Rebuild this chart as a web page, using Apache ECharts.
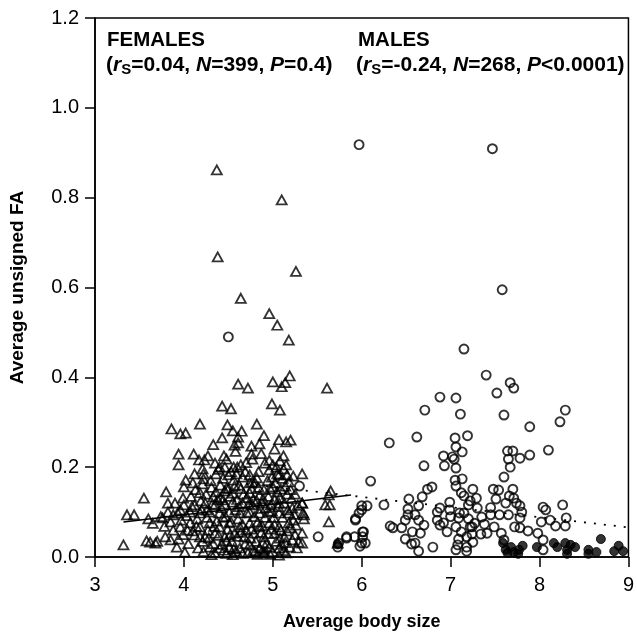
<!DOCTYPE html>
<html>
<head>
<meta charset="utf-8">
<script src="https://cdn.jsdelivr.net/npm/echarts@6/dist/echarts.min.js"></script>
<style>html,body{margin:0;padding:0;background:#fff}#c{width:637px;height:637px}</style>
</head>
<body>
<div id="c"></div>
<script>
// ---- data ----
const xTicks = [3, 4, 5, 6, 7, 8, 9];
const yTicks = [0.0, 0.2, 0.4, 0.6, 0.8, 1.0, 1.2];

const females = [
[4.37,0.862],[5.10,0.795],[4.38,0.668],[5.26,0.636],[4.64,0.576],[4.96,0.542],[5.05,0.516],[5.18,0.483],
[4.61,0.385],[4.72,0.376],[5.00,0.390],[5.19,0.403],[5.10,0.379],[5.14,0.388],[5.61,0.376],
[4.43,0.336],[4.53,0.330],[4.99,0.341],[5.08,0.327],[3.86,0.285],[3.96,0.274],[4.02,0.276],[4.18,0.296],
[4.49,0.294],[4.55,0.281],[4.82,0.296],[4.43,0.265],[4.61,0.267],[4.57,0.249],[4.61,0.254],[4.76,0.247],
[4.85,0.252],[5.07,0.261],[5.15,0.256],[3.94,0.229],[3.94,0.205],[4.11,0.229],[4.17,0.216],[4.23,0.216],
[4.35,0.209],[4.40,0.200],[4.46,0.200],[4.48,0.218],[4.56,0.200],[4.60,0.200],[4.76,0.229],[4.77,0.218],
[4.91,0.209],[5.00,0.205],[5.08,0.214],[5.04,0.200],[5.12,0.196],[4.21,0.196],[4.22,0.185],[4.22,0.174],
[4.21,0.163],[4.02,0.171],[4.00,0.156],[4.10,0.165],[4.50,0.183],[4.56,0.171],[4.66,0.178],[4.74,0.183],
[4.82,0.176],[4.77,0.167],[4.96,0.194],[4.99,0.178],[5.07,0.183],[5.16,0.183],[5.33,0.185],[5.18,0.167],
[5.00,0.156],[5.09,0.151],[4.48,0.154],[4.46,0.147],[4.57,0.158],[4.74,0.143],[4.85,0.138],[3.55,0.131],
[3.82,0.120],[3.99,0.131],[4.18,0.143],[4.33,0.134],[4.00,0.116],[4.12,0.116],[4.24,0.120],[4.35,0.116],
[4.44,0.127],[4.55,0.122],[4.66,0.120],[4.77,0.116],[4.88,0.120],[4.98,0.116],[5.07,0.120],[5.22,0.109],
[5.33,0.120],[5.65,0.147],[5.63,0.138],[5.59,0.116],[5.64,0.116],[5.63,0.078],[5.35,0.094],[5.35,0.085],
[3.36,0.094],[3.44,0.094],[3.76,0.087],[3.88,0.094],[3.96,0.105],[4.07,0.100],[4.18,0.098],[4.29,0.100],
[4.40,0.098],[4.51,0.100],[4.63,0.098],[4.74,0.100],[4.85,0.098],[4.96,0.100],[5.07,0.098],[5.18,0.098],
[5.34,0.098],[5.26,0.071],[5.33,0.053],[5.29,0.033],[5.33,0.031],[5.73,0.031],[3.32,0.027],[3.62,0.033],
[3.68,0.031],[3.79,0.045],[3.85,0.038],[3.92,0.022],[4.01,0.011],[3.96,0.067],[4.07,0.076],[4.18,0.067],
[4.29,0.076],[4.40,0.067],[4.51,0.076],[4.63,0.067],[4.74,0.076],[4.85,0.067],[4.96,0.076],[5.07,0.067],
[5.18,0.076],[4.12,0.049],[4.24,0.045],[4.35,0.053],[4.46,0.045],[4.57,0.053],[4.68,0.045],[4.79,0.053],
[4.90,0.045],[5.02,0.053],[5.13,0.045],[5.22,0.038],[4.29,0.022],[4.40,0.020],[4.51,0.022],[4.63,0.020],
[4.74,0.027],[4.85,0.020],[4.96,0.022],[5.07,0.020],[4.35,0.009],[4.72,0.009],[4.90,0.009],[5.15,0.009],
[4.25,0.140],[4.31,0.155],[4.38,0.128],[4.42,0.110],[4.47,0.090],[4.52,0.135],[4.58,0.105],[4.61,0.085],
[4.67,0.140],[4.70,0.060],[4.73,0.118],[4.79,0.090],[4.82,0.125],[4.88,0.070],[4.92,0.110],[4.95,0.135],
[5.01,0.088],[5.05,0.145],[5.09,0.060],[5.13,0.120],[5.16,0.140],[5.21,0.130],[5.24,0.095],[5.28,0.115],
[4.15,0.085],[4.19,0.125],[4.08,0.135],[4.03,0.092],[3.97,0.082],[3.90,0.120],[3.85,0.078],[3.74,0.090],
[3.70,0.035],[3.94,0.040],[4.05,0.030],[4.10,0.058],[4.16,0.020],[4.21,0.035],[4.27,0.060],[4.33,0.030],
[4.37,0.080],[4.43,0.028],[4.49,0.062],[4.54,0.035],[4.59,0.013],[4.64,0.055],[4.69,0.030],[4.76,0.062],
[4.81,0.035],[4.87,0.055],[4.93,0.030],[4.98,0.062],[5.04,0.035],[5.10,0.028],[5.16,0.058],[5.19,0.022],
[5.25,0.050],[4.30,0.170],[4.36,0.185],[4.41,0.160],[4.53,0.190],[4.62,0.160],[4.69,0.190],[4.80,0.165],
[4.90,0.150],[4.94,0.170],[5.03,0.165],[5.11,0.175],[5.20,0.150],[4.45,0.225],[4.58,0.235],[4.70,0.210],
[4.87,0.230],[5.02,0.240],[5.12,0.225],[4.33,0.250],[4.65,0.280],[4.90,0.270],[5.20,0.260],[3.80,0.145],
[4.13,0.150],[4.26,0.105],[3.60,0.085],[3.65,0.075],[3.58,0.036],[5.33,0.120],[4.45,0.015],[4.78,0.014],
[5.00,0.012],[4.55,0.005],[4.83,0.006],[5.12,0.014],
[4.22,0.012],[4.28,0.042],[4.34,0.068],[4.39,0.048],[4.44,0.088],[4.48,0.036],[4.53,0.078],[4.56,0.018],
[4.60,0.046],[4.62,0.112],[4.66,0.072],[4.71,0.098],[4.75,0.042],[4.78,0.128],[4.83,0.078],[4.86,0.108],
[4.89,0.032],[4.91,0.088],[4.95,0.052],[4.99,0.102],[5.02,0.072],[5.06,0.112],[5.08,0.042],[5.11,0.088],
[5.14,0.032],[5.17,0.105],[5.20,0.065],[5.23,0.082],[4.26,0.088],[4.32,0.118],[4.36,0.145],[4.41,0.132],
[4.46,0.118],[4.50,0.152],[4.55,0.142],[4.60,0.128],[4.64,0.152],[4.71,0.132],[4.76,0.152],[4.84,0.155],
[4.89,0.130],[4.97,0.152],[5.02,0.128],[5.08,0.132],[5.14,0.158],[5.25,0.140],[4.20,0.105],[4.14,0.068],
[4.09,0.112],[4.04,0.060],[3.99,0.050],[3.93,0.098],[3.88,0.060],[3.82,0.100],[3.78,0.068],[4.12,0.185],
[4.27,0.225],[4.39,0.195],[4.44,0.175],[4.59,0.185],[4.64,0.205],[4.74,0.165],[4.84,0.190],[4.96,0.215],
[5.05,0.185],[5.15,0.205],[5.23,0.180],[4.31,0.005],[4.66,0.008],[4.97,0.006],[5.07,0.004],[4.52,0.050],
[4.80,0.012],[5.27,0.020],[4.18,0.045],[4.48,0.008]
];

const malesOpen = [
[5.97,0.918],[7.47,0.909],[7.58,0.595],[7.15,0.463],[7.40,0.405],[7.67,0.388],[7.71,0.376],[4.50,0.490],
[7.52,0.365],[6.88,0.356],[7.06,0.354],[8.29,0.327],[6.71,0.327],[7.11,0.318],[7.60,0.316],[8.23,0.301],
[7.89,0.290],[6.31,0.254],[6.62,0.267],[7.05,0.265],[7.19,0.270],[7.06,0.245],[7.13,0.234],[6.92,0.225],
[7.02,0.223],[7.04,0.218],[7.06,0.198],[6.93,0.203],[6.70,0.203],[7.64,0.236],[7.70,0.236],[7.78,0.220],
[7.89,0.227],[7.65,0.218],[7.67,0.200],[8.10,0.238],[7.60,0.178],[6.10,0.169],[7.05,0.171],[7.13,0.174],
[7.06,0.158],[6.74,0.151],[6.79,0.156],[7.25,0.151],[7.48,0.151],[7.54,0.149],[7.70,0.151],[7.12,0.143],
[7.15,0.136],[7.66,0.136],[7.71,0.131],[6.53,0.129],[6.68,0.134],[7.29,0.131],[6.99,0.122],[7.22,0.125],
[7.51,0.129],[7.74,0.120],[6.00,0.114],[6.06,0.114],[6.64,0.114],[6.52,0.107],[6.88,0.109],[7.20,0.116],
[7.30,0.109],[7.78,0.114],[8.04,0.111],[8.26,0.116],[8.07,0.105],[6.00,0.105],[6.85,0.100],[6.99,0.105],
[7.10,0.098],[7.15,0.098],[6.52,0.094],[6.60,0.094],[7.35,0.089],[7.45,0.094],[7.55,0.094],[7.65,0.094],
[7.78,0.087],[8.30,0.087],[5.93,0.082],[6.49,0.082],[6.85,0.082],[6.92,0.076],[7.09,0.087],[7.20,0.085],
[8.02,0.078],[8.12,0.082],[6.64,0.082],[7.24,0.067],[7.38,0.073],[7.49,0.067],[7.72,0.067],[7.78,0.065],
[7.87,0.058],[8.18,0.069],[8.29,0.069],[6.32,0.069],[6.35,0.065],[6.45,0.065],[6.70,0.071],[6.88,0.071],
[6.96,0.056],[7.06,0.067],[7.12,0.056],[7.22,0.067],[6.57,0.056],[6.66,0.053],[6.01,0.056],[5.83,0.045],
[5.92,0.045],[6.01,0.045],[6.49,0.040],[7.09,0.040],[7.18,0.045],[7.24,0.051],[7.34,0.051],[7.41,0.053],
[7.57,0.053],[7.60,0.038],[7.98,0.053],[8.04,0.038],[8.04,0.016],[6.00,0.031],[6.04,0.031],[6.56,0.029],
[6.60,0.031],[6.80,0.022],[7.08,0.027],[7.18,0.022],[7.25,0.033],[6.64,0.013],[7.06,0.016],[7.18,0.013],
[5.74,0.031],[5.30,0.158],[5.97,0.098],[5.93,0.085],[6.02,0.056],[5.51,0.045],[5.83,0.042],[5.98,0.024],
[5.73,0.022],[6.25,0.116],[7.00,0.090],[7.27,0.075],[7.45,0.110],[7.62,0.120],[7.80,0.100]
];

const malesFilled = [
[7.59,0.031],[7.62,0.016],[7.68,0.022],[7.71,0.011],[7.77,0.016],[7.81,0.025],[7.64,0.009],[7.97,0.022],
[8.16,0.031],[8.20,0.022],[8.29,0.031],[8.35,0.027],[8.40,0.022],[8.31,0.016],[8.31,0.007],[8.69,0.040],
[8.55,0.016],[8.55,0.007],[8.64,0.011],[8.84,0.013],[8.89,0.025],[8.94,0.013],[7.76,0.007],[5.73,0.028],
[4.90,0.012]
];

const femaleLine = [[3.32, 0.078], [5.88, 0.138]];
const maleLine = [[4.70, 0.163], [9.00, 0.066]];

// ---- chart ----
const FONT = '"Liberation Sans", Arial, Helvetica, sans-serif';
const chart = echarts.init(document.getElementById('c'), null, {renderer: 'canvas'});
const statRich = {
  t: {fontFamily: FONT, fontSize: 21, fontWeight: 'bold', color: '#000', verticalAlign: 'middle'},
  i: {fontFamily: FONT, fontSize: 21, fontWeight: 'bold', fontStyle: 'italic', color: '#000', verticalAlign: 'middle'},
  s: {fontFamily: FONT, fontSize: 15, fontWeight: 'bold', color: '#000', verticalAlign: 'bottom', padding: [9, 0, 0, 0]}
};
chart.setOption({
  animation: false,
  backgroundColor: '#fff',
  grid: {left: 94, right: 4, top: 18, bottom: 80, show: true, borderColor: '#000', borderWidth: 1.5, backgroundColor: 'transparent'},
  xAxis: {
    type: 'value', min: 3, max: 9, interval: 1,
    name: 'Average body size', nameLocation: 'middle', nameGap: 56,
    nameTextStyle: {fontFamily: FONT, fontSize: 18, fontWeight: 'bold', color: '#000'},
    axisLine: {show: true, onZero: false, lineStyle: {color: '#000', width: 1.5}},
    axisTick: {show: true, length: 10, lineStyle: {color: '#000', width: 1.5}},
    axisLabel: {fontFamily: FONT, fontSize: 20, color: '#000', margin: 18,
      formatter: v => (xTicks.indexOf(v) >= 0 ? String(v) : '')},
    splitLine: {show: false}
  },
  yAxis: {
    type: 'value', min: 0, max: 1.2, interval: 0.2,
    name: 'Average unsigned FA', nameLocation: 'middle', nameGap: 68, nameRotate: 90,
    nameTextStyle: {fontFamily: FONT, fontSize: 19, fontWeight: 'bold', color: '#000'},
    axisLine: {show: true, lineStyle: {color: '#000', width: 1.5}},
    axisTick: {show: true, length: 10, lineStyle: {color: '#000', width: 1.5}},
    axisLabel: {fontFamily: FONT, fontSize: 20, color: '#000', margin: 16,
      formatter: v => {
        const t = yTicks.find(a => Math.abs(a - v) < 1e-9);
        return t === undefined ? '' : t.toFixed(1);
      }},
    splitLine: {show: false}
  },
  graphic: [
    {type: 'text', left: 107, top: 30, style: {text: 'FEMALES', fontFamily: FONT, fontSize: 20.5, fontWeight: 'bold', fill: '#000'}},
    {type: 'text', left: 358, top: 30, style: {text: 'MALES', fontFamily: FONT, fontSize: 20.5, fontWeight: 'bold', fill: '#000'}},
    {type: 'text', left: 106, top: 55, style: {
      text: '{t|(}{i|r}{s|S}{t|=0.04, }{i|N}{t|=399, }{i|P}{t|=0.4)}', rich: statRich}},
    {type: 'text', left: 356, top: 55, style: {
      text: '{t|(}{i|r}{s|S}{t|=-0.24, }{i|N}{t|=268, }{i|P}{t|<0.0001)}', rich: statRich}}
  ],
  series: [
    {type: 'scatter', data: females, symbol: 'triangle', symbolSize: [10, 9],
     itemStyle: {color: 'rgba(255,255,255,0)', borderColor: '#000', borderWidth: 1.8}, z: 2},
    {type: 'scatter', data: malesOpen, symbol: 'circle', symbolSize: 9,
     itemStyle: {color: 'rgba(255,255,255,0)', borderColor: '#000', borderWidth: 1.9}, z: 3},
    {type: 'scatter', data: malesFilled, symbol: 'circle', symbolSize: 9,
     itemStyle: {color: '#000', borderColor: '#000', borderWidth: 1}, z: 3},
    {type: 'line', data: femaleLine, symbol: 'none', lineStyle: {color: '#000', width: 1.5, type: 'solid'}, z: 4},
    {type: 'line', data: maleLine, symbol: 'none', lineStyle: {color: '#000', width: 1.8, type: [2, 8]}, z: 4}
  ]
});
</script>
</body>
</html>
